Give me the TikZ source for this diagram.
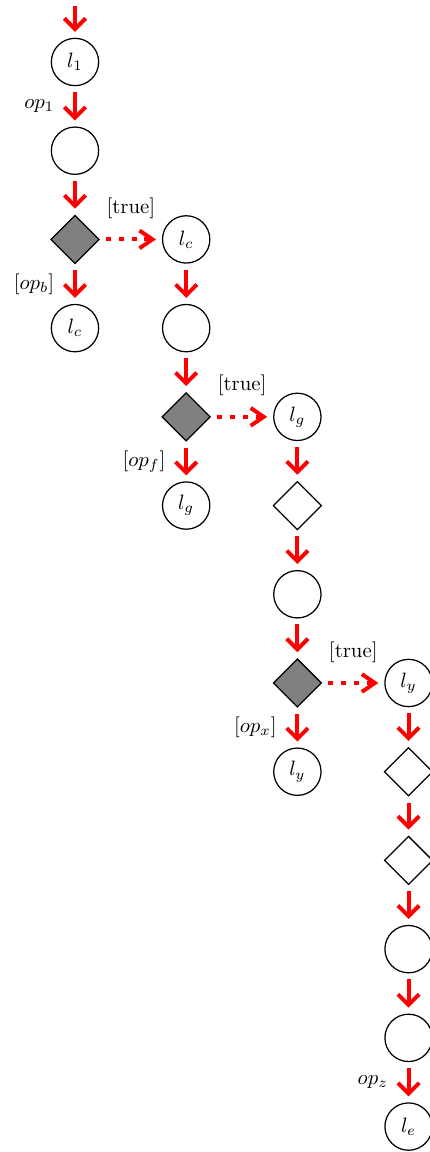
\documentclass[tikz,border=0pt]{standalone}
\usetikzlibrary{shapes.geometric,arrows.meta}

\begin{document}
\begin{tikzpicture}[
    loc/.style={circle,draw,semithick,minimum size=0.8cm,inner sep=0pt},
    cond/.style={diamond,draw,semithick,minimum size=0.82cm,inner sep=0pt},
    taken/.style={cond,fill=gray},
    flow/.style={-{Straight Barb[length=1.8mm,width=3.6mm]},red,line width=1.9pt,
      shorten <=1mm,shorten >=1mm},
    jump/.style={flow,-{Straight Barb[length=2.2mm,width=3mm]},
      dash pattern=on 2.4pt off 3.8pt}
  ]
  \useasboundingbox (-1.268,1.048) rectangle (5.986,-18.43);
  \coordinate (entry) at (0,1.048);
  \draw
    (0,0) node[loc] (l1){$l_1$}
    (0,-1.5) node[loc] (a){}
    (0,-3) node[taken] (d1){}
    (0,-4.5) node[loc] (lc){$l_c$}
    (1.88,-3) node[loc] (lc2){$l_c$}
    (1.88,-4.5) node[loc] (b){}
    (1.88,-6) node[taken] (d2){}
    (1.88,-7.5) node[loc] (lg){$l_g$}
    (3.76,-6) node[loc] (lg2){$l_g$}
    (3.76,-7.5) node[cond] (d3){}
    (3.76,-9) node[loc] (c){}
    (3.76,-10.5) node[taken] (d4){}
    (3.76,-12) node[loc] (ly){$l_y$}
    (5.64,-10.5) node[loc] (ly2){$l_y$}
    (5.64,-12) node[cond] (d5){}
    (5.64,-13.5) node[cond] (d6){}
    (5.64,-15) node[loc] (e){}
    (5.64,-16.5) node[loc] (f){}
    (5.64,-18) node[loc] (le){$l_e$};
  \begin{scope}[flow]
    \draw (entry) to (l1);
    \draw (l1) to node[midway,left=2mm,black]{$op_1$} (a);
    \draw (a) to (d1);
    \draw (d1) to node[midway,left=2mm,black]{$[op_b]$} (lc);
    \draw (lc2) to (b);
    \draw (b) to (d2);
    \draw (d2) to node[midway,left=2mm,black]{$[op_f]$} (lg);
    \draw (lg2) to (d3);
    \draw (d3) to (c);
    \draw (c) to (d4);
    \draw (d4) to node[midway,left=2mm,black]{$[op_x]$} (ly);
    \draw (ly2) to (d5);
    \draw (d5) to (d6);
    \draw (d6) to (e);
    \draw (e) to (f);
    \draw (f) to node[midway,left=2mm,black]{$op_z$} (le);
  \end{scope}
  \begin{scope}[jump]
    \draw (d1) to node[midway,above=2mm,black]{[true]} (lc2);
    \draw (d2) to node[midway,above=2mm,black]{[true]} (lg2);
    \draw (d4) to node[midway,above=2mm,black]{[true]} (ly2);
  \end{scope}
\end{tikzpicture}
\end{document}
